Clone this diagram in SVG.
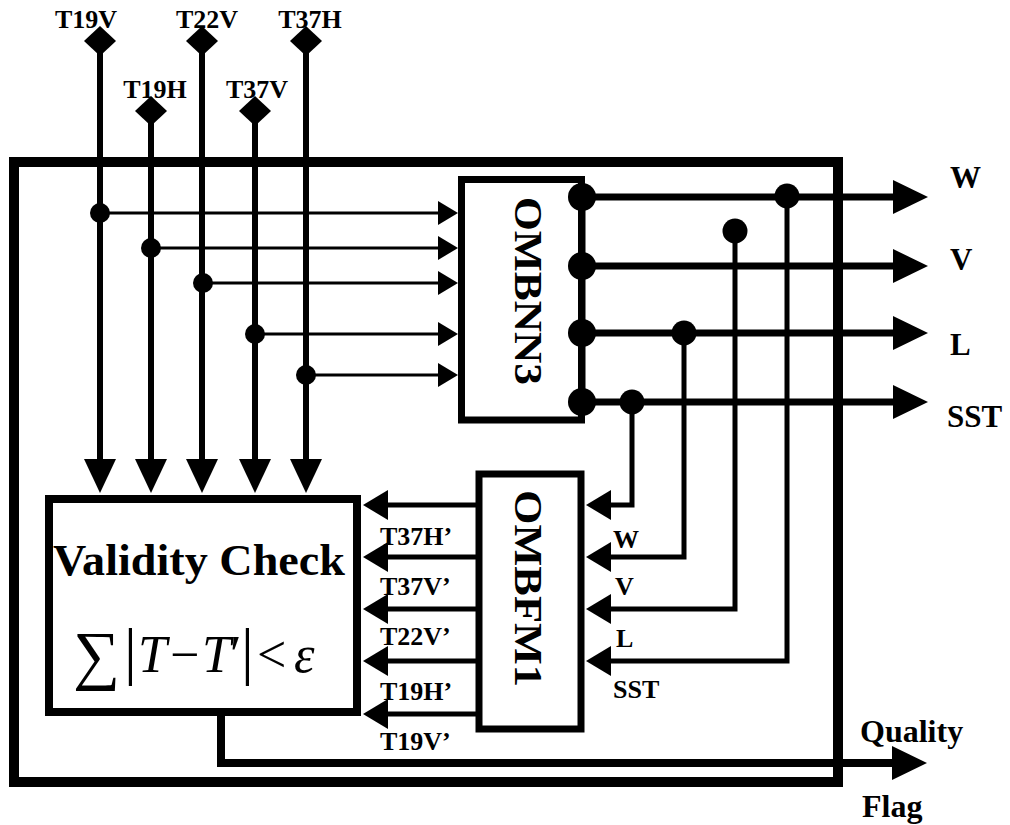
<svg xmlns="http://www.w3.org/2000/svg" width="1010" height="825" viewBox="0 0 1010 825">
<style>
  .lbl { font-family: "Liberation Serif", "Times New Roman", serif; font-weight: bold; fill: #000; }
  .box { fill: none; stroke: #000; }
  .frame { fill: none; stroke: #000; stroke-width: 10; }
  .in { stroke: #000; stroke-width: 6; fill: none; }
  .tap { stroke: #000; stroke-width: 3; fill: none; }
  .out { stroke: #000; stroke-width: 7; fill: none; }
  .fb { stroke: #000; stroke-width: 5; fill: none; }
  .dot { fill: #000; }
  .diamond { fill: #000; }
  .math { font-family: "Liberation Serif", "DejaVu Serif", serif; fill: #000; }
</style>
<defs>
  <marker id="arrowL" markerUnits="userSpaceOnUse" markerWidth="36" markerHeight="34" refX="1" refY="17" orient="auto">
    <path d="M0,0 L35,17 L0,34 z" fill="#000"/>
  </marker>
  <marker id="arrowD" markerUnits="userSpaceOnUse" markerWidth="35" markerHeight="32" refX="1" refY="16" orient="auto">
    <path d="M0,0 L34,16 L0,32 z" fill="#000"/>
  </marker>
  <marker id="arrowS" markerUnits="userSpaceOnUse" markerWidth="21" markerHeight="24" refX="1" refY="12" orient="auto">
    <path d="M0,0 L20,12 L0,24 z" fill="#000"/>
  </marker>
  <marker id="arrowM" markerUnits="userSpaceOnUse" markerWidth="26" markerHeight="30" refX="1" refY="15" orient="auto">
    <path d="M0,0 L25,15 L0,30 z" fill="#000"/>
  </marker>
</defs>
<rect width="1010" height="825" fill="#fff"/>

<g id="system-frame">
  <rect class="frame" x="14" y="162" width="824" height="620"/>
</g>

<g id="connectors">
  <!-- input verticals -->
  <path class="in" d="M100,41 V460" marker-end="url(#arrowD)"/>
  <path class="in" d="M151,111 V460" marker-end="url(#arrowD)"/>
  <path class="in" d="M202,41 V460" marker-end="url(#arrowD)"/>
  <path class="in" d="M255,111 V460" marker-end="url(#arrowD)"/>
  <path class="in" d="M306,41 V460" marker-end="url(#arrowD)"/>
  <!-- taps into OMBNN3 -->
  <path class="tap" d="M100,213 H439" marker-end="url(#arrowS)"/>
  <path class="tap" d="M151,248 H439" marker-end="url(#arrowS)"/>
  <path class="tap" d="M203,283 H439" marker-end="url(#arrowS)"/>
  <path class="tap" d="M255,334 H439" marker-end="url(#arrowS)"/>
  <path class="tap" d="M306,375 H439" marker-end="url(#arrowS)"/>
  <circle class="dot" cx="100" cy="213" r="10"/>
  <circle class="dot" cx="151" cy="248" r="10"/>
  <circle class="dot" cx="203" cy="283" r="10"/>
  <circle class="dot" cx="255" cy="334" r="10"/>
  <circle class="dot" cx="306" cy="375" r="10"/>
  <!-- outputs of OMBNN3 -->
  <path class="out" d="M582,197 V402"/>
  <path class="out" d="M582,197 H894" marker-end="url(#arrowL)"/>
  <path class="out" d="M582,266 H894" marker-end="url(#arrowL)"/>
  <path class="out" d="M582,333 H894" marker-end="url(#arrowL)"/>
  <path class="out" d="M582,402 H894" marker-end="url(#arrowL)"/>
  <circle class="dot" cx="582" cy="197" r="14"/>
  <circle class="dot" cx="582" cy="266" r="14"/>
  <circle class="dot" cx="582" cy="333" r="14"/>
  <circle class="dot" cx="582" cy="402" r="14"/>
  <!-- feedback into OMBFM1 -->
  <path class="fb" d="M632,402 V505 H610" marker-end="url(#arrowM)"/>
  <path class="fb" d="M684,333 V557 H610" marker-end="url(#arrowM)"/>
  <path class="fb" d="M735,231 V609 H610" marker-end="url(#arrowM)"/>
  <path class="fb" d="M787,197 V661 H610" marker-end="url(#arrowM)"/>
  <circle class="dot" cx="632" cy="402" r="12.5"/>
  <circle class="dot" cx="684" cy="333" r="12.5"/>
  <circle class="dot" cx="735" cy="231" r="12.5"/>
  <circle class="dot" cx="787" cy="196" r="12.5"/>
  <!-- OMBFM1 to validity check -->
  <path class="fb" d="M479,505 H387" marker-end="url(#arrowM)"/>
  <path class="fb" d="M479,557 H387" marker-end="url(#arrowM)"/>
  <path class="fb" d="M479,609 H387" marker-end="url(#arrowM)"/>
  <path class="fb" d="M479,661 H387" marker-end="url(#arrowM)"/>
  <path class="fb" d="M479,714 H387" marker-end="url(#arrowM)"/>
  <!-- quality flag -->
  <path class="out" style="stroke-width:8" d="M221,712 V763 H893" marker-end="url(#arrowL)"/>
</g>

<g id="input-T19V">
  <polygon class="diamond" points="100,26 116,41 100,56 84,41"/>
  <text class="lbl" x="86" y="28" font-size="26" text-anchor="middle">T19V</text>
</g>
<g id="input-T19H">
  <polygon class="diamond" points="151,96 167,111 151,126 135,111"/>
  <text class="lbl" x="155" y="98" font-size="26" text-anchor="middle">T19H</text>
</g>
<g id="input-T22V">
  <polygon class="diamond" points="202,26 218,41 202,56 186,41"/>
  <text class="lbl" x="207" y="28" font-size="26" text-anchor="middle">T22V</text>
</g>
<g id="input-T37V">
  <polygon class="diamond" points="255,96 271,111 255,126 239,111"/>
  <text class="lbl" x="257" y="98" font-size="26" text-anchor="middle">T37V</text>
</g>
<g id="input-T37H">
  <polygon class="diamond" points="306,26 322,41 306,56 290,41"/>
  <text class="lbl" x="310" y="28" font-size="26" text-anchor="middle">T37H</text>
</g>

<g id="OMBNN3">
  <rect class="box" x="461.5" y="179.5" width="120" height="240.5" stroke-width="7"/>
  <text class="lbl" transform="translate(515,197) rotate(90)" font-size="40" textLength="188" lengthAdjust="spacingAndGlyphs">OMBNN3</text>
</g>

<g id="OMBFM1">
  <rect class="box" x="479" y="474" width="102" height="255" stroke-width="7"/>
  <text class="lbl" transform="translate(515,490) rotate(90)" font-size="40" textLength="197" lengthAdjust="spacingAndGlyphs">OMBFM1</text>
  <text class="lbl" x="613" y="548" font-size="26">W</text>
  <text class="lbl" x="615" y="595" font-size="26">V</text>
  <text class="lbl" x="616" y="647" font-size="26">L</text>
  <text class="lbl" x="613" y="698" font-size="26">SST</text>
</g>

<g id="validity-check">
  <rect class="box" x="49" y="499" width="308" height="213" stroke-width="8"/>
  <text class="lbl" x="53" y="575" font-size="44" textLength="292" lengthAdjust="spacingAndGlyphs">Validity Check</text>
  <text class="math" y="667" font-size="52">
    <tspan x="73" font-size="66" y="677">∑</tspan><tspan x="124" font-size="64" y="672">|</tspan><tspan x="138" font-style="italic">T</tspan><tspan x="170">−</tspan><tspan x="202" font-style="italic">T</tspan><tspan x="230">′</tspan><tspan x="241" font-size="64" y="672">|</tspan><tspan x="257">&lt;</tspan><tspan x="294" font-style="italic">ε</tspan>
  </text>
  <text class="lbl" x="380" y="545" font-size="26">T37H’</text>
  <text class="lbl" x="380" y="595" font-size="26">T37V’</text>
  <text class="lbl" x="380" y="645" font-size="26">T22V’</text>
  <text class="lbl" x="380" y="700" font-size="26">T19H’</text>
  <text class="lbl" x="380" y="750" font-size="26">T19V’</text>
</g>

<g id="outputs">
  <text class="lbl" x="950" y="188" font-size="31">W</text>
  <text class="lbl" x="950" y="270" font-size="31">V</text>
  <text class="lbl" x="950" y="355" font-size="31">L</text>
  <text class="lbl" x="947" y="427" font-size="31">SST</text>
  <text class="lbl" x="860" y="742" font-size="32">Quality</text>
  <text class="lbl" x="862" y="817" font-size="32">Flag</text>
</g>
</svg>
